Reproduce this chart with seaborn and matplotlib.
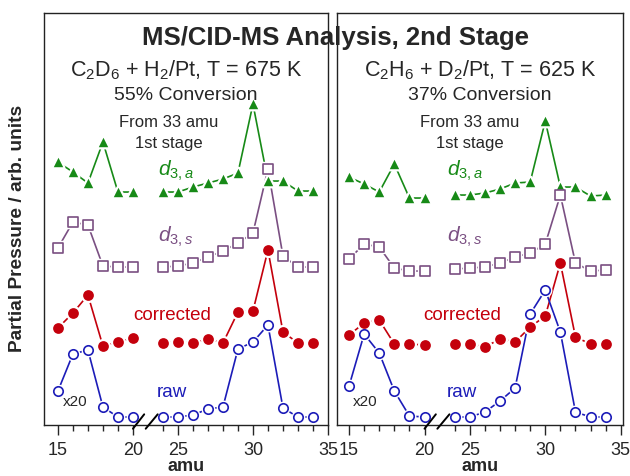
import matplotlib
matplotlib.use("Agg")
import pandas as pd
import matplotlib.pyplot as plt
import matplotlib.transforms as mtransforms
import seaborn as sns

# masses measured; the axis is broken between 20 and 24 amu
amu_low = [15, 16, 17, 18, 19, 20]
amu_high = [24, 25, 26, 27, 28, 29, 30, 31, 32, 33, 34]
tick_amu = [15, 20, 25, 30, 35]

# C2D6 + H2/Pt, T = 675 K  (arb. units)
c2d6_d3a = [26.3, 25.3, 24.2, 28.3, 23.3, 23.3, 23.3, 23.3, 23.8, 24.2, 24.6, 25.2, 32.1, 24.4, 24.4, 23.4, 23.4]
c2d6_d3s = [17.7, 20.3, 20.0, 15.9, 15.8, 15.8, 15.8, 15.9, 16.2, 16.8, 17.4, 18.2, 19.2, 25.6, 16.9, 15.8, 15.8]
c2d6_corr = [9.7, 11.2, 13.0, 7.9, 8.3, 8.7, 8.2, 8.3, 8.2, 8.6, 8.2, 11.3, 11.4, 17.5, 9.3, 8.2, 8.2]
c2d6_raw = [3.4, 7.1, 7.5, 1.8, 0.8, 0.8, 0.8, 0.8, 1.0, 1.6, 1.8, 7.6, 8.3, 10.0, 1.7, 0.8, 0.8]

# C2H6 + D2/Pt, T = 625 K
c2h6_d3a = [24.8, 24.1, 23.3, 26.1, 22.7, 22.7, 23.0, 23.0, 23.2, 23.6, 24.2, 24.3, 30.4, 23.8, 23.8, 22.9, 23.0]
c2h6_d3s = [16.6, 18.1, 17.8, 15.7, 15.4, 15.4, 15.6, 15.7, 15.8, 16.2, 16.8, 17.2, 18.1, 23.0, 16.2, 15.4, 15.5]
c2h6_corr = [9.0, 10.2, 10.5, 8.1, 8.1, 8.0, 8.1, 8.1, 7.8, 8.6, 8.3, 9.8, 10.9, 16.2, 8.8, 8.1, 8.1]
c2h6_raw = [3.9, 9.1, 7.2, 3.4, 0.9, 0.8, 0.8, 0.8, 1.3, 2.4, 3.7, 11.1, 13.5, 9.3, 1.3, 0.8, 0.8]

GREEN = "#178a17"
PURPLE = "#7a4f82"
RED = "#c4000c"
BLUE = "#1c1cb8"
SHIFT = 2  # high-mass segment is slid left by 2 amu (axis break)

# name, color, marker, size, filled
styles = [
    ("d3a", GREEN, "^", 46, True),
    ("d3s", PURPLE, "s", 52, False),
    ("corr", RED, "o", 60, True),
    ("raw", BLUE, "o", 46, False),
]


def make_frame(series):
    rows = []
    for name, vals in series.items():
        for i, a in enumerate(amu_low + amu_high):
            high = a >= 24
            rows.append({"series": name, "amu": a, "pos": a - SHIFT if high else a,
                         "segment": int(high), "value": vals[i]})
    return pd.DataFrame(rows)


def draw_panel(ax, df, xlim):
    for name, color, marker, size, filled in styles:
        sub = df[df.series == name]
        for seg, part in sub.groupby("segment"):
            sns.lineplot(data=part, x="pos", y="value", ax=ax, color=color, lw=1.2,
                         estimator=None, sort=False, legend=False, zorder=2)
    for name, color, marker, size, filled in styles:
        sub = df[df.series == name]
        # white halo so the lines stop short of the symbols
        sns.scatterplot(data=sub, x="pos", y="value", ax=ax, marker=marker, s=size,
                        color="white", edgecolor="white", linewidth=3.2, legend=False, zorder=3)
        sns.scatterplot(data=sub, x="pos", y="value", ax=ax, marker=marker, s=size,
                        color=color if filled else "white", edgecolor=color,
                        linewidth=0 if filled else 1.2, legend=False, zorder=4)

    ax.set_xlim(*xlim)
    ax.set_ylim(0, 41.2)
    ax.set_yticks([])
    ax.set_ylabel("")
    ax.set_xticks([a if a <= 20 else a - SHIFT for a in tick_amu])
    ax.set_xticklabels([str(a) for a in tick_amu])
    minor = [a for a in range(16, 20)] + [a - SHIFT for a in range(24, 35) if a % 5]
    ax.set_xticks(minor, minor=True)
    ax.tick_params(axis="x", which="major", length=7, width=1, labelsize=13, pad=5)
    ax.tick_params(axis="x", which="minor", length=4, width=1)
    ax.set_xlabel("amu", fontsize=13, fontweight="bold", labelpad=-0.5)
    for sp in ax.spines.values():
        sp.set_visible(True)
        sp.set_linewidth(1)
        sp.set_color("#222222")

    # axis-break marks
    tr = mtransforms.blended_transform_factory(ax.transData, ax.transAxes)
    for x0, x1 in [(20.0, 20.75), (20.85, 21.65)]:
        ax.plot([x0, x1], [-0.009, 0.026], color="black", lw=1.4, transform=tr, clip_on=False, zorder=5)


sns.set_style("ticks")
plt.rcParams["font.family"] = ["Liberation Sans", "DejaVu Sans"]
plt.rcParams["mathtext.fontset"] = "custom"
plt.rcParams["mathtext.rm"] = "Liberation Sans"
plt.rcParams["mathtext.it"] = "Liberation Sans:italic"
plt.rcParams["mathtext.bf"] = "Liberation Sans:bold"

fig = plt.figure(figsize=(6.3, 4.76), dpi=100)
ax1 = fig.add_axes([0.0698, 0.1071, 0.4508, 0.8655])
ax2 = fig.add_axes([0.5349, 0.1071, 0.4540, 0.8655])

df_left = make_frame({"d3a": c2d6_d3a, "d3s": c2d6_d3s, "corr": c2d6_corr, "raw": c2d6_raw})
df_right = make_frame({"d3a": c2h6_d3a, "d3s": c2h6_d3s, "corr": c2h6_corr, "raw": c2h6_raw})

draw_panel(ax1, df_left, (14.07, 33.0))
draw_panel(ax2, df_right, (14.2, 33.15))

headers = [
    (ax1, r"C$_2$D$_6$ + H$_2$/Pt, T = 675 K", "55% Conversion", 0.44, 0.401, 0.451, 0.109),
    (ax2, r"C$_2$H$_6$ + D$_2$/Pt, T = 625 K", "37% Conversion", 0.465, 0.385, 0.437, 0.098),
]
for ax, formula, conv, xfrom, xd, xlab, x20 in headers:
    ax.text(0.5, 0.845, formula, transform=ax.transAxes, ha="center", va="baseline", fontsize=15.5)
    ax.text(0.5, 0.789, conv, transform=ax.transAxes, ha="center", va="baseline", fontsize=14)
    ax.text(xfrom, 0.723, "From 33 amu", transform=ax.transAxes, ha="center", va="baseline", fontsize=12)
    ax.text(xfrom, 0.673, "1st stage", transform=ax.transAxes, ha="center", va="baseline", fontsize=12)
    ax.text(xd, 0.617, r"$\mathit{d_{3,a}}$", transform=ax.transAxes, ha="left", va="center",
            fontsize=15, color=GREEN)
    ax.text(xd, 0.456, r"$\mathit{d_{3,s}}$", transform=ax.transAxes, ha="left", va="center",
            fontsize=15, color=PURPLE)
    ax.text(xlab, 0.267, "corrected", transform=ax.transAxes, ha="center", va="center",
            fontsize=13.5, color=RED)
    ax.text(xlab, 0.080, "raw", transform=ax.transAxes, ha="center", va="center",
            fontsize=13.5, color=BLUE)
    ax.text(x20, 0.056, "x20", transform=ax.transAxes, ha="center", va="center", fontsize=11)

fig.text(0.533, 1 - 45 / 476, "MS/CID-MS Analysis, 2nd Stage", ha="center", va="baseline",
         fontsize=18.5, fontweight="bold")
fig.text(18 / 630, 1 - 228 / 476, "Partial Pressure / arb. units", rotation=90, ha="center",
         va="center", fontsize=13.8, fontweight="bold")

fig.savefig("out.png", dpi=100)
